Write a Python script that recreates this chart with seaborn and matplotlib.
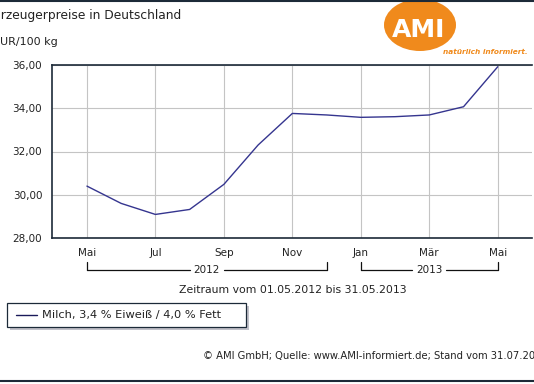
import matplotlib
matplotlib.use("Agg")
import matplotlib.pyplot as plt
import seaborn as sns
import pandas as pd
from matplotlib.patches import Ellipse, FancyBboxPatch
from matplotlib.lines import Line2D
from matplotlib.transforms import blended_transform_factory

# monthly milk producer prices, May 2012 .. May 2013 (EUR/100 kg)
months = ["Mai", "Jun", "Jul", "Aug", "Sep", "Okt", "Nov", "Dez",
          "Jan", "Feb", "Mär", "Apr", "Mai"]
prices = [30.40, 29.60, 29.09, 29.32, 30.48, 32.30, 33.76, 33.69,
          33.58, 33.61, 33.69, 34.07, 35.92]
series_name = "Milch, 3,4 % Eiweiß / 4,0 % Fett"
tick_months = [0, 2, 4, 6, 8, 10, 12]
years = [("2012", 0, 7), ("2013", 8, 12)]
y_ticks = [28, 30, 32, 34, 36]

df = pd.DataFrame({"m": range(len(prices)), "price": prices, "serie": series_name})

sns.set_style("white")
plt.rcParams["font.family"] = ["DejaVu Sans"]

W, H = 534, 384
fig = plt.figure(figsize=(W / 100, H / 100), dpi=100)
ax = fig.add_axes([52 / W, 146 / H, 480 / W, 173 / H])

sns.lineplot(data=df, x="m", y="price", color="#35358f", linewidth=1.0,
             ax=ax, legend=False)

ax.set_xlim(-1.02, 13.0)
ax.set_ylim(28, 36)
ax.set_xticks(tick_months)
ax.set_xticklabels([months[i] for i in tick_months], fontsize=7.5, color="#222222")
ax.set_yticks(y_ticks)
ax.set_yticklabels([f"{v:.2f}".replace(".", ",") for v in y_ticks],
                   fontsize=7.5, color="#222222")
ax.set_xlabel("")
ax.set_ylabel("")
ax.grid(True, color="#c4c4c4", linewidth=0.8)
ax.tick_params(axis="both", length=5, width=0.8, color="#1c2a38", pad=2, direction="out")
ax.tick_params(axis="x", pad=2)
for side in ["left", "bottom", "top"]:
    ax.spines[side].set_color("#1c2a38")
    ax.spines[side].set_linewidth(1.2)
ax.spines["right"].set_visible(False)

# year brackets below the month labels
tr = blended_transform_factory(ax.transData, ax.transAxes)
y_br = -32 / 173
y_end = -24 / 173
for label, a, b in years:
    mid = (a + b) / 2
    for seg in [(a, mid - 0.5), (mid + 0.5, b)]:
        ax.plot(seg, [y_br, y_br], color="#111111", lw=0.9, transform=tr, clip_on=False)
    ax.plot([a, a], [y_br, y_end], color="#111111", lw=0.9, transform=tr, clip_on=False)
    ax.plot([b, b], [y_br, y_end], color="#111111", lw=0.9, transform=tr, clip_on=False)
    ax.text(mid, y_br, label, transform=tr, ha="center", va="center",
            fontsize=7.5, color="#222222")

fig.text(293 / W, 1 - 290 / H, "Zeitraum vom 01.05.2012 bis 31.05.2013",
         ha="center", va="center", fontsize=7.8, color="#222222")

# titles (clipped at the left edge as in the source)
fig.text(-7 / W, 1 - 15 / H, "Erzeugerpreise in Deutschland",
         ha="left", va="center", fontsize=8.8, color="#222222")
fig.text(-7 / W, 1 - 42 / H, "EUR/100 kg",
         ha="left", va="center", fontsize=8, color="#222222")

# legend box
shadow = FancyBboxPatch((10 / W, 1 - 330 / H), 239 / W, 24 / H,
                        boxstyle="square,pad=0", transform=fig.transFigure,
                        facecolor="#9a9aa8", edgecolor="none", alpha=0.6)
box = FancyBboxPatch((7 / W, 1 - 327 / H), 239 / W, 24 / H,
                     boxstyle="square,pad=0", transform=fig.transFigure,
                     facecolor="white", edgecolor="#1c2a38", linewidth=0.9)
fig.add_artist(shadow)
fig.add_artist(box)
fig.add_artist(Line2D([16 / W, 37 / W], [1 - 315 / H] * 2, color="#1a1a5a", lw=1.0))
fig.text(42 / W, 1 - 315 / H, series_name, ha="left", va="center",
         fontsize=8.2, color="#222222")

fig.text(203 / W, 1 - 356 / H,
         "© AMI GmbH; Quelle: www.AMI-informiert.de; Stand vom 31.07.2013",
         ha="left", va="center", fontsize=7.2, color="#222222")

# AMI logo
fig.add_artist(Ellipse((420 / W, 1 - 25 / H), 72 / W, 52 / H,
                       transform=fig.transFigure, facecolor="#f08a1c", edgecolor="none"))
fig.text(419 / W, 1 - 30 / H, "AMI", ha="center", va="center", fontsize=18,
         fontweight="bold", color="white")
fig.text(528 / W, 1 - 52 / H, "natürlich informiert.", ha="right", va="center",
         fontsize=5.3, fontstyle="italic", fontweight="bold", color="#f08a1c")

# frame lines at top and bottom
fig.add_artist(Line2D([0, 1], [1 - 1 / H] * 2, color="#1c2a38", lw=1.5))
fig.add_artist(Line2D([0, 1], [1 - 381 / H] * 2, color="#1c2a38", lw=1.5))

fig.savefig("out.png", dpi=100, facecolor="white")
